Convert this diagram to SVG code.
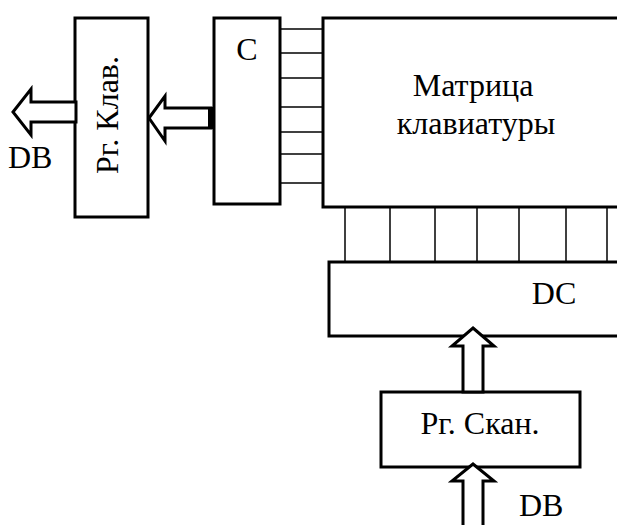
<svg xmlns="http://www.w3.org/2000/svg" width="617" height="525" viewBox="0 0 617 525">
<style>
.box{fill:#fff;stroke:#000;stroke-width:3}
.ln{stroke:#000;stroke-width:1.5;fill:none}
.arr{fill:#fff;stroke:#000;stroke-width:3;stroke-linejoin:miter}
text{font-family:"Liberation Serif","Times New Roman",serif;font-size:32px;fill:#000}
</style>
<rect width="617" height="525" fill="#fff"/>
<g id="connectors">
<g id="c-lines">
<line class="ln" x1="280" y1="29" x2="322" y2="29"/>
<line class="ln" x1="280" y1="53" x2="322" y2="53"/>
<line class="ln" x1="280" y1="78" x2="322" y2="78"/>
<line class="ln" x1="280" y1="107" x2="322" y2="107"/>
<line class="ln" x1="280" y1="132" x2="325" y2="132"/>
<line class="ln" x1="280" y1="154" x2="325" y2="154"/>
<line class="ln" x1="280" y1="183" x2="322" y2="183"/>
</g>
<g id="dc-lines">
<line class="ln" x1="345" y1="205" x2="345" y2="261"/>
<line class="ln" x1="390" y1="207" x2="390" y2="261"/>
<line class="ln" x1="435" y1="207" x2="435" y2="261"/>
<line class="ln" x1="477" y1="207" x2="477" y2="261"/>
<line class="ln" x1="519" y1="207" x2="519" y2="261"/>
<line class="ln" x1="566" y1="207" x2="566" y2="261"/>
<line class="ln" x1="607" y1="207" x2="607" y2="261"/>
</g>
</g>
<g id="rg-klav">
<rect class="box" x="75" y="18" width="73" height="199"/>
<text transform="translate(118,115) rotate(-90)" text-anchor="middle">Рг. Клав.</text>
</g>
<g id="c">
<rect class="box" x="214" y="18" width="66" height="186"/>
<text x="247" y="60" text-anchor="middle">C</text>
</g>
<g id="matrix">
<rect class="box" x="323" y="18" width="320" height="189"/>
<text x="473" y="96" text-anchor="middle">Матрица</text>
<text x="476" y="134" text-anchor="middle">клавиатуры</text>
</g>
<g id="dc">
<rect class="box" x="329" y="262" width="320" height="74"/>
<text x="554" y="304" text-anchor="middle">DC</text>
</g>
<g id="rg-scan">
<rect class="box" x="381" y="392" width="199" height="75"/>
<text x="480" y="434" text-anchor="middle">Рг. Скан.</text>
</g>
<g id="arrows">
<polygon class="arr" points="149,118 165,96 165,108 211,108 211,128 165,128 165,141"/>
<rect x="208" y="107" width="6" height="22" fill="#000"/>
<polygon class="arr" points="13,112 31,89 31,102 76,102 76,122 31,122 31,135"/>
<polygon class="arr" points="473,328 494,346 483,346 483,392 463,392 463,346 452,346"/>
<polygon class="arr" points="473,464 494,481 483,481 483,530 463,530 463,481 452,481"/>
</g>
<text x="8" y="168">DB</text>
<text x="519" y="516">DB</text>
</svg>
